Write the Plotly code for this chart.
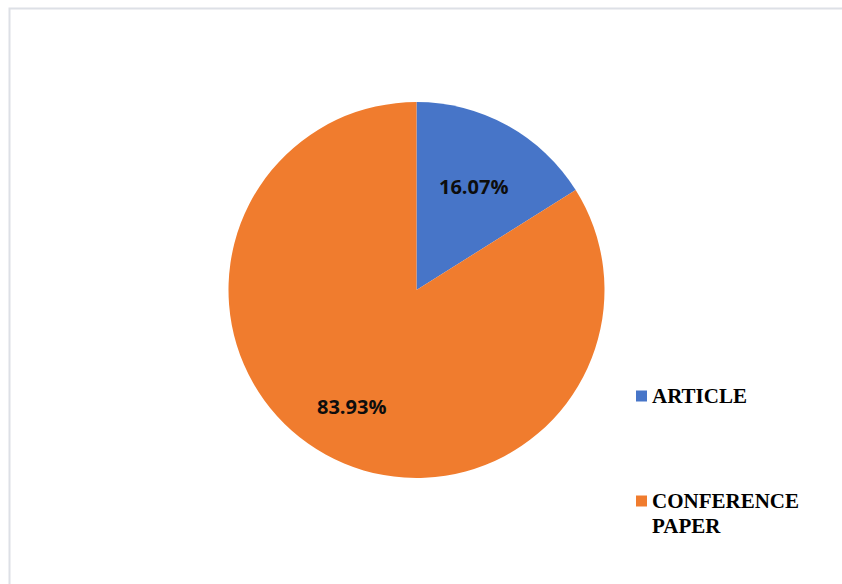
import math
import plotly.graph_objects as go

W, H = 842, 584

categories = ["ARTICLE", "CONFERENCE PAPER"]
counts = [9, 47]
colors = ["#4775c8", "#f07c2e"]
label_radius_frac = [0.63, 0.71]

legend_lines = [["ARTICLE"], ["CONFERENCE", "PAPER"]]

cx, cy, r = 416.5, 290, 188

fig = go.Figure()
fig.add_trace(go.Pie(
    labels=categories,
    values=counts,
    sort=False,
    direction="clockwise",
    rotation=0,
    marker=dict(colors=colors, line=dict(width=0)),
    textinfo="none",
    hoverinfo="label+percent",
    showlegend=False,
    domain=dict(x=[(cx - r) / W, (cx + r) / W], y=[1 - (cy + r) / H, 1 - (cy - r) / H]),
))

shapes = [dict(type="rect", xref="paper", yref="paper",
               x0=9.5 / W, x1=1.2, y0=-0.2, y1=1 - 8.5 / H,
               line=dict(color="#dde0e6", width=2), fillcolor="rgba(0,0,0,0)", layer="below")]
annotations = []

# percentage labels computed from the data (mid-angle of each slice)
total = sum(counts)
cum = 0
for i, v in enumerate(counts):
    mid = (cum + v / 2) / total * 2 * math.pi
    cum += v
    d = label_radius_frac[i] * r
    px = cx + d * math.sin(mid)
    py = cy - d * math.cos(mid)
    annotations.append(dict(text="<b>{:.2f}%</b>".format(v / total * 100), xref="paper", yref="paper",
                            x=px / W, y=1 - py / H, xanchor="center", yanchor="middle", showarrow=False,
                            font=dict(family="Open Sans", size=20, color="#0d0d0d")))

leg_y = [396, 501]
for i, lines in enumerate(legend_lines):
    yc = leg_y[i]
    shapes.append(dict(type="rect", xref="paper", yref="paper",
                       x0=636 / W, x1=647 / W, y0=1 - (yc + 5.5) / H, y1=1 - (yc - 5.5) / H,
                       line=dict(width=0), fillcolor=colors[i]))
    for j, t in enumerate(lines):
        annotations.append(dict(text="<b>" + t + "</b>", xref="paper", yref="paper",
                                x=650 / W, y=1 - (yc + j * 25) / H, xanchor="left", yanchor="middle",
                                showarrow=False, font=dict(family="Liberation Serif", size=21, color="#000000")))

fig.update_layout(
    width=W, height=H,
    margin=dict(l=0, r=0, t=0, b=0),
    paper_bgcolor="white", plot_bgcolor="white",
    shapes=shapes, annotations=annotations,
)

fig.write_html("out.html")
